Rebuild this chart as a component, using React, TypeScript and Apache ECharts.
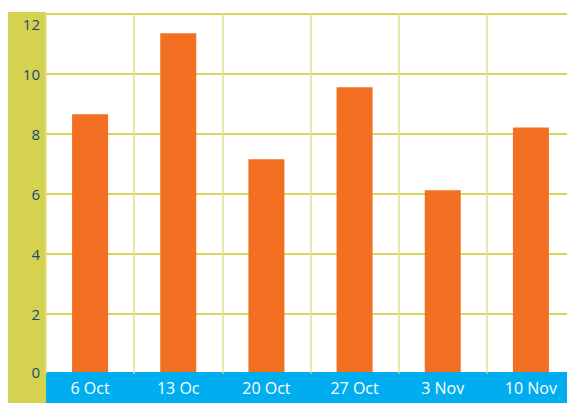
import React, { useEffect, useRef } from "react";
import * as echarts from "echarts";

const categories = ["6 Oct", "13 Oc", "20 Oct", "27 Oct", "3 Nov", "10 Nov"];
const values = [8.64, 11.34, 7.14, 9.54, 6.11, 8.2];
const yTicks = { min: 0, max: 12, interval: 2 };

export default function App() {
  const ref = useRef<HTMLDivElement>(null);
  useEffect(() => {
    document.body.style.margin = "0";
    const chart = echarts.init(ref.current!, undefined, { renderer: "svg" });
    chart.setOption({
      animation: false,
      textStyle: { fontFamily: "Open Sans" },
      grid: { left: 46, top: 13.5, width: 529, height: 360, containLabel: false },
      graphic: [
        { type: "rect", z: -1, shape: { x: 8, y: 12, width: 38, height: 391 }, style: { fill: "#d5d250" } },
        { type: "rect", z: 5, shape: { x: 46, y: 372, width: 540, height: 31 }, style: { fill: "#00aeef" } },
      ],
      xAxis: {
        type: "category",
        data: categories,
        z: 10,
        axisLine: { show: false },
        axisTick: { show: false },
        splitLine: { show: true, interval: 0, lineStyle: { color: "#e3df8c", width: 1.5 } },
        axisLabel: { color: "#ffffff", fontSize: 16, margin: 6, interval: 0, fontFamily: "Open Sans" },
      },
      yAxis: {
        type: "value",
        min: yTicks.min,
        max: yTicks.max,
        interval: yTicks.interval,
        axisLine: { show: false },
        axisTick: { show: false },
        splitLine: { lineStyle: { color: "#d8d45e", width: 2 } },
        axisLabel: {
          color: "#1a4a72",
          fontSize: 15,
          margin: 6,
          fontFamily: "Open Sans",
          formatter: (v: number) => (v === 12 ? "{top|12}" : v === 0 ? "{bot|0}" : String(v)),
          rich: {
            top: { padding: [20, 0, 0, 0], fontSize: 15, color: "#1a4a72", fontFamily: "Open Sans" },
            bot: { padding: [0, 0, 4, 0], fontSize: 15, color: "#1a4a72", fontFamily: "Open Sans" },
          },
        },
      },
      series: [
        {
          type: "bar",
          data: values,
          barWidth: 36,
          itemStyle: { color: "#f36f21" },
        },
      ],
    });
    return () => chart.dispose();
  }, []);
  return (
    <div style={{ width: 567, height: 403, overflow: "hidden" }}>
      <div ref={ref} style={{ width: 590, height: 403 }} />
    </div>
  );
}
